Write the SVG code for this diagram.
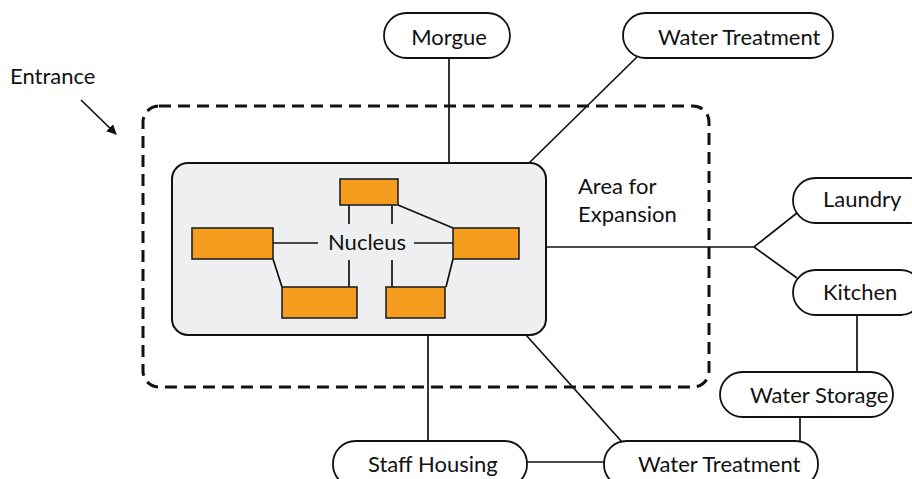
<svg xmlns="http://www.w3.org/2000/svg" width="912" height="479" viewBox="0 0 912 479">
<defs>
<style>
.t{font-family:Lato,"Noto Sans","DejaVu Sans",sans-serif;font-size:22px;fill:#111;}
.pill{fill:#fff;stroke:#111;stroke-width:1.8;}
.ln{stroke:#111;stroke-width:1.7;fill:none;}
.org{fill:#f39c1e;stroke:#222;stroke-width:1.6;}
</style>
<marker id="ah" markerWidth="10" markerHeight="10" refX="9" refY="5" orient="auto" markerUnits="userSpaceOnUse">
<path d="M0,0 L10,5 L0,10 Z" fill="#111"/>
</marker>
</defs>
<rect width="912" height="479" fill="#fff"/>
<g id="expansion-area">
<rect x="143" y="106" width="566" height="281" rx="16" fill="none" stroke="#111" stroke-width="3" stroke-dasharray="12 7"/>
<text class="t" x="578" y="194">Area for</text>
<text class="t" x="578" y="222">Expansion</text>
</g>
<g id="entrance">
<text class="t" x="10" y="84">Entrance</text>
<line class="ln" x1="81" y1="100" x2="116" y2="134" stroke-width="2.4" marker-end="url(#ah)"/>
</g>
<g id="connectors">
<line class="ln" x1="449" y1="58" x2="449" y2="163"/>
<line class="ln" x1="637" y1="57" x2="529" y2="163"/>
<polyline class="ln" points="546,247 754,247 797,213"/>
<line class="ln" x1="754" y1="247" x2="797" y2="278"/>
<line class="ln" x1="857" y1="315" x2="857" y2="372"/>
<line class="ln" x1="800" y1="417" x2="800" y2="441"/>
<line class="ln" x1="428" y1="335" x2="428" y2="441"/>
<line class="ln" x1="526" y1="335" x2="622" y2="442"/>
<line class="ln" x1="527" y1="462" x2="604" y2="462"/>
</g>
<g id="nucleus">
<rect x="172" y="163" width="374" height="172" rx="16" fill="#eeeff0" stroke="#111" stroke-width="2"/>
<g class="ln" stroke-width="1.5">
<line x1="273" y1="243" x2="318" y2="243"/>
<line x1="414" y1="243" x2="453" y2="243"/>
<line x1="349" y1="205" x2="349" y2="224"/>
<line x1="392" y1="205" x2="392" y2="224"/>
<line x1="349" y1="260" x2="349" y2="287"/>
<line x1="392" y1="260" x2="392" y2="287"/>
<line x1="398" y1="205" x2="453" y2="228"/>
<line x1="273" y1="259" x2="282" y2="287"/>
<line x1="453" y1="259" x2="446" y2="287"/>
</g>
<rect class="org" x="340" y="179" width="58" height="26"/>
<rect class="org" x="192" y="228" width="81" height="31"/>
<rect class="org" x="453" y="228" width="66" height="31"/>
<rect class="org" x="282" y="287" width="75" height="31"/>
<rect class="org" x="386" y="287" width="59" height="31"/>
<text class="t" x="367" y="250" text-anchor="middle">Nucleus</text>
</g>
<g id="morgue">
<rect class="pill" x="384" y="13" width="126" height="45" rx="22.5"/>
<text class="t" x="449" y="45" text-anchor="middle">Morgue</text>
</g>
<g id="water-treatment-top">
<rect class="pill" x="623" y="13" width="210" height="45" rx="22.5"/>
<text class="t" x="658" y="45">Water Treatment</text>
</g>
<g id="laundry">
<rect class="pill" x="793" y="178" width="140" height="45" rx="22.5"/>
<text class="t" x="823" y="207">Laundry</text>
</g>
<g id="kitchen">
<rect class="pill" x="793" y="270" width="130" height="45" rx="22.5"/>
<text class="t" x="823" y="300">Kitchen</text>
</g>
<g id="water-storage">
<rect class="pill" x="720" y="372" width="173" height="45" rx="22.5"/>
<text class="t" x="750" y="403">Water Storage</text>
</g>
<g id="staff-housing">
<rect class="pill" x="333" y="441" width="194" height="46" rx="22.5"/>
<text class="t" x="368" y="472">Staff Housing</text>
</g>
<g id="water-treatment-bottom">
<rect class="pill" x="604" y="441" width="214" height="46" rx="22.5"/>
<text class="t" x="638" y="472">Water Treatment</text>
</g>
</svg>
